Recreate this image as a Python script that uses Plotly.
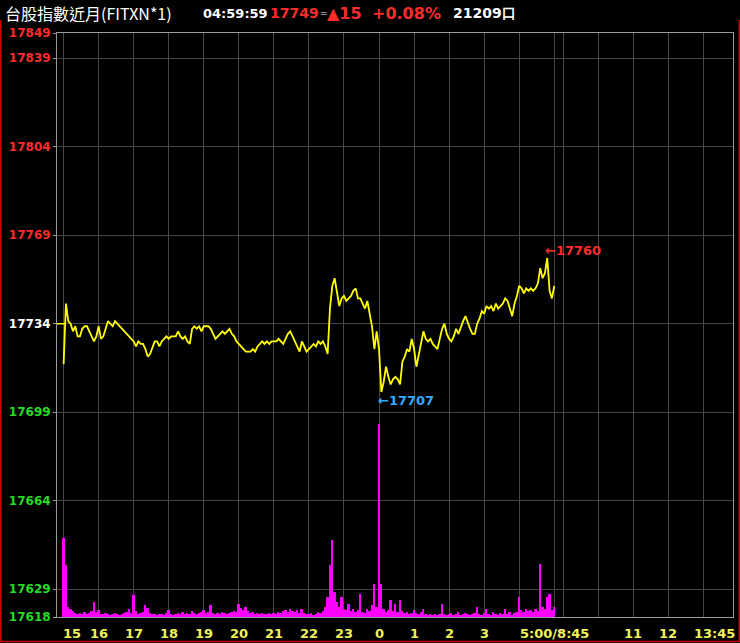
import plotly.graph_objects as go

# ---------------- data ----------------
REF_PRICE = 17734          # previous settlement
TOTAL_VOLUME = 21209
LAST_TIME = "04:59:59"
STEP_MIN = 4               # sampling step of the night session series (minutes)

price = [
    17718, 17742, 17735, 17734, 17731, 17733, 17729, 17729, 17732, 17733,
    17733, 17731, 17729, 17727, 17729, 17733, 17728, 17729, 17732, 17735,
    17734, 17733, 17735, 17734, 17733, 17732, 17731, 17730, 17729, 17728,
    17727, 17725, 17727, 17726, 17726, 17724, 17721, 17722, 17725, 17727,
    17727, 17725, 17727, 17728, 17729, 17728, 17729, 17729, 17729, 17731,
    17729, 17728, 17729, 17727, 17726, 17732, 17733, 17732, 17733, 17731,
    17733, 17733, 17733, 17732, 17730, 17728, 17729, 17730, 17731, 17730,
    17731, 17732, 17730, 17729, 17727, 17726, 17725, 17724, 17723, 17723,
    17723, 17724, 17723, 17725, 17726, 17727, 17726, 17727, 17726, 17727,
    17727, 17727, 17728, 17727, 17726, 17728, 17730, 17731, 17729, 17727,
    17725, 17723, 17727, 17725, 17723, 17724, 17725, 17726, 17725, 17727,
    17726, 17727, 17725, 17722, 17740, 17749, 17752, 17747, 17741, 17744,
    17745, 17743, 17744, 17745, 17747, 17748, 17744, 17744, 17742, 17740,
    17743, 17738, 17733, 17724, 17731, 17724, 17707, 17711, 17717, 17713,
    17710, 17712, 17713, 17712, 17710, 17719, 17721, 17724, 17723, 17728,
    17724, 17717, 17722, 17727, 17731, 17728, 17727, 17728, 17726, 17725,
    17724, 17728, 17732, 17734, 17730, 17728, 17727, 17729, 17732, 17730,
    17733, 17735, 17737, 17734, 17732, 17730, 17730, 17734, 17736, 17739,
    17738, 17741, 17740, 17741, 17739, 17742, 17740, 17741, 17742, 17744,
    17743, 17740, 17737, 17742, 17745, 17749, 17748, 17746, 17748, 17747,
    17748, 17747, 17748, 17750, 17756, 17752, 17754, 17760, 17747, 17744,
    17749,
]

volume = [
    790, 520, 100, 80, 60, 40, 30, 40, 30, 50,
    30, 40, 60, 150, 50, 70, 30, 30, 40, 30,
    20, 30, 40, 30, 20, 30, 40, 50, 80, 40,
    220, 60, 30, 40, 50, 120, 90, 40, 30, 30,
    20, 30, 30, 20, 40, 70, 30, 20, 30, 40,
    30, 50, 30, 40, 30, 60, 40, 30, 40, 50,
    70, 40, 50, 120, 40, 30, 40, 30, 50, 40,
    30, 40, 50, 60, 50, 130, 90, 70, 100, 60,
    40, 50, 30, 40, 30, 40, 30, 30, 40, 30,
    40, 30, 50, 40, 60, 70, 50, 80, 60, 50,
    70, 40, 80, 40, 30, 30, 40, 20, 30, 50,
    40, 60, 100, 200, 520, 770, 250, 150, 100, 200,
    80, 70, 130, 60, 80, 50, 70, 230, 50, 40,
    80, 60, 120, 330, 100, 1930, 330, 80, 50, 70,
    170, 60, 130, 50, 170, 60, 40, 50, 30, 40,
    70, 40, 30, 50, 80, 30, 20, 30, 20, 30,
    20, 30, 130, 30, 20, 30, 40, 20, 30, 50,
    20, 30, 40, 30, 20, 30, 40, 100, 30, 20,
    40, 80, 30, 20, 50, 30, 20, 40, 30, 80,
    30, 50, 20, 40, 50, 200, 70, 50, 80, 60,
    70, 50, 80, 60, 530, 100, 80, 200, 230, 70,
    100,
]

minutes = [i * STEP_MIN for i in range(len(price))]   # minutes after 15:00

y_ticks = [17849, 17839, 17804, 17769, 17734, 17699, 17664, 17629, 17618]
# axis positions in minutes (night 15:00 -> 0, 5:00 -> 840, day 8:45 -> 840, 13:45 -> 1140)
grid_minutes = [0, 60, 120, 180, 240, 300, 360, 420, 480, 540, 600, 660, 720, 780,
                840, 855, 915, 975, 1035, 1095]
x_tick_minutes = [0, 60, 120, 180, 240, 300, 360, 420, 480, 540, 600, 660, 720,
                  840, 975, 1035, 1140]
x_tick_labels = ["15", "16", "17", "18", "19", "20", "21", "22", "23", "0", "1",
                 "2", "3", "5:00/8:45", "11", "12", "13:45"]
x_label_shift = [8, 0, 0, 0, 0, 0, 0, 0, 0, 0, 0, 0, 0, 0, 0, 0, -15]

X_RANGE = [-11.3, 1146]
Y_RANGE = [17618, 17849]
VOL_RANGE = [0, 5840]

# ---------------- style ----------------
W, H = 740, 643
ML, MR, MT, MB = 57, 7, 33, 26
PW, PH = W - ML - MR, H - MT - MB

RED = "#ff2b2b"
GREEN = "#22dd22"
WHITE = "#ffffff"
YELLOW = "#ffff00"
TICKYEL = "#f2f25a"
BLUE = "#33aaff"
GRID = "#474747"
FRAME = "#9a9a9a"
NUMFONT = "DejaVu Sans"


def px_x(px):
    return (px - ML) / PW


def px_y(py):
    return 1 - (py - MT) / PH


def ycolor(v):
    if v > REF_PRICE:
        return RED
    if v < REF_PRICE:
        return GREEN
    return WHITE


fig = go.Figure()
fig.add_trace(go.Bar(x=minutes, y=volume, yaxis="y2", width=STEP_MIN * 0.8,
                     marker=dict(color="#ff00ff", line=dict(width=0)),
                     hoverinfo="skip"))
fig.add_trace(go.Scatter(x=minutes, y=price, mode="lines",
                         line=dict(color=YELLOW, width=1.8)))

ticktext = [f"<span style='color:{ycolor(v)}'>{v}</span>" for v in y_ticks]

fig.update_layout(
    width=W, height=H, margin=dict(l=ML, r=MR, t=MT, b=MB),
    paper_bgcolor="#000000", plot_bgcolor="#000000",
    showlegend=False, bargap=0,
    xaxis=dict(range=X_RANGE, tickmode="array", tickvals=grid_minutes,
               showticklabels=False, ticks="", showgrid=True, gridcolor=GRID,
               gridwidth=1, zeroline=False, showline=True, mirror=True,
               linecolor=FRAME, linewidth=1),
    xaxis2=dict(range=X_RANGE, overlaying="x", anchor="y", side="bottom",
                tickmode="array", tickvals=x_tick_minutes, showticklabels=False,
                ticks="outside", ticklen=6, tickwidth=1, tickcolor=TICKYEL,
                showgrid=False, zeroline=False, showline=False),
    yaxis=dict(range=Y_RANGE, tickmode="array", tickvals=y_ticks, ticktext=ticktext,
               ticks="outside", ticklen=3, tickcolor=FRAME, showgrid=True,
               gridcolor=GRID, zeroline=False, showline=True, mirror=True,
               linecolor=FRAME, linewidth=1,
               tickfont=dict(family=NUMFONT, size=12, color=WHITE, weight="bold")),
    yaxis2=dict(range=VOL_RANGE, overlaying="y", visible=False),
)

ann = []
# x tick labels
for m, lab, sh in zip(x_tick_minutes, x_tick_labels, x_label_shift):
    ann.append(dict(x=m, xref="x", y=px_y(633), yref="paper", text=lab,
                    showarrow=False, xanchor="center", yanchor="middle", xshift=sh,
                    font=dict(family=NUMFONT, size=13, color=TICKYEL, weight="bold")))

# high / low markers
hi = max(price)
lo = min(price)
hi_x = minutes[price.index(hi)]
lo_x = minutes[price.index(lo)]
ann.append(dict(x=hi_x, y=hi, xref="x", yref="y", text=f"←{hi}", showarrow=False,
                xanchor="left", yanchor="bottom", xshift=-4, yshift=-2,
                font=dict(family=NUMFONT, size=13, color=RED, weight="bold")))
ann.append(dict(x=lo_x, y=lo, xref="x", yref="y", text=f"←{lo}", showarrow=False,
                xanchor="left", yanchor="top", xshift=-5, yshift=1,
                font=dict(family=NUMFONT, size=13, color=BLUE, weight="bold")))

# header
last = price[-1]
chg = last - REF_PRICE
pct = chg / REF_PRICE * 100
arrow = "▲" if chg >= 0 else "▼"
hdr_y = px_y(13)
header = [
    (3, "台股指數近月(FITXN*1)", WHITE, "Noto Sans CJK TC", 16, "normal"),
    (201, LAST_TIME, WHITE, NUMFONT, 13, "bold"),
    (268, f"{last}", RED, NUMFONT, 14, "bold"),
    (318, "=", WHITE, NUMFONT, 9, "normal"),
    (325, f"{arrow}{abs(chg)}", RED, NUMFONT, 16, "bold"),
    (370, f"{pct:+.2f}%", RED, NUMFONT, 16, "bold"),
    (451, f"{TOTAL_VOLUME}口", WHITE, NUMFONT, 14, "bold"),
]
for px, txt, col, fam, sz, wt in header:
    ann.append(dict(x=px_x(px), xref="paper", y=hdr_y, yref="paper", text=txt,
                    showarrow=False, xanchor="left", yanchor="middle",
                    font=dict(family=fam, size=sz, color=col, weight=wt)))
fig.update_layout(annotations=ann)

# reference-price marker at left edge and outer red frame (left, bottom, right)
fig.add_shape(type="line", xref="paper", yref="y", x0=0, x1=px_x(65),
              y0=REF_PRICE, y1=REF_PRICE, line=dict(color=YELLOW, width=1.5))
fl, fr, fb, ft = px_x(0.75), px_x(739.25), px_y(641.5), px_y(20)
fig.add_shape(type="path", xref="paper", yref="paper",
              path=f"M {fl},{ft} L {fl},{fb} L {fr},{fb} L {fr},{ft}",
              line=dict(color="#cc0000", width=1.5), layer="above")

fig.write_html("out.html", config={"displayModeBar": False},
               post_script="document.body.style.margin='0';"
               "document.body.style.background='#000';")
